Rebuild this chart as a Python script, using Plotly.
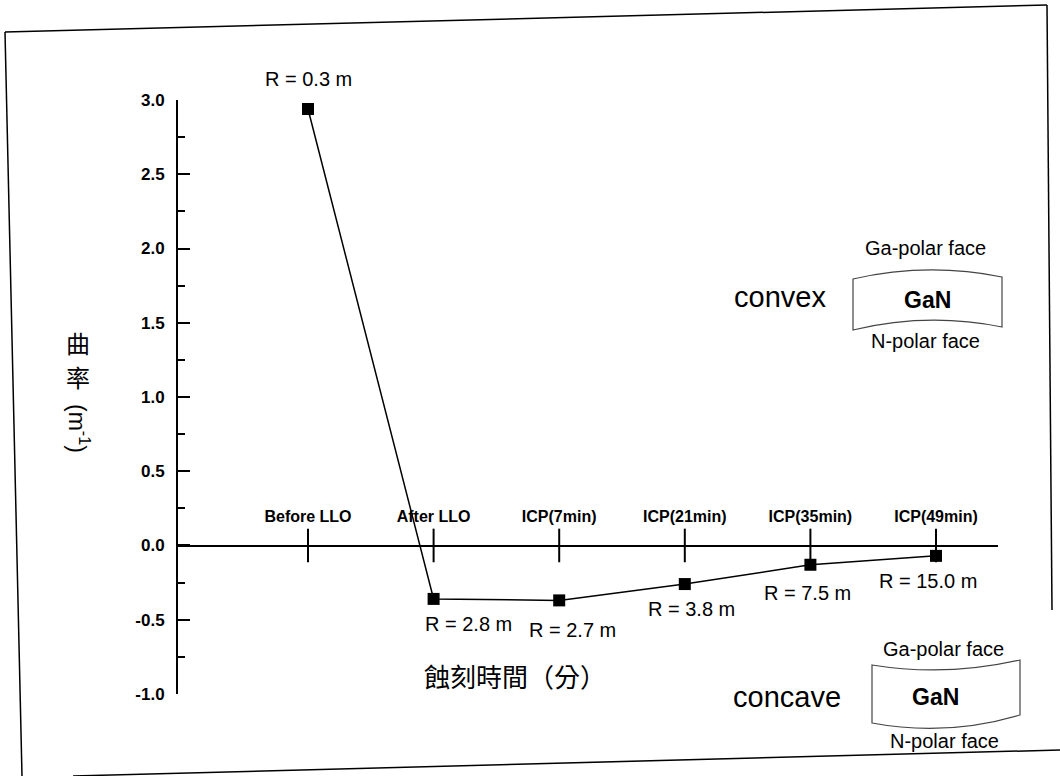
import plotly.graph_objects as go

# ---- data ----
categories = ["Before LLO", "After LLO", "ICP(7min)", "ICP(21min)", "ICP(35min)", "ICP(49min)"]
curvature = [2.94, -0.36, -0.37, -0.26, -0.13, -0.07]
radius_labels = ["R = 0.3 m", "R = 2.8 m", "R = 2.7 m", "R = 3.8 m", "R = 7.5 m", "R = 15.0 m"]
y_ticks = [3.0, 2.5, 2.0, 1.5, 1.0, 0.5, 0.0, -0.5, -1.0]

W, H = 1060, 776
ML, MR, MT, MB = 178, 62, 100, 82
PW, PH = W - ML - MR, H - MT - MB

def px(x):
    return (x - ML) / PW

def py(y):
    return (H - MB - y) / PH

FONT = "Liberation Sans, Arial, sans-serif"
CJK = "Noto Sans CJK TC, Noto Sans CJK SC, sans-serif"

xi = list(range(len(categories)))

fig = go.Figure()

# category tick marks crossing the axis line at y=0
fig.add_trace(go.Scatter(
    x=xi, y=[0] * len(xi), mode="markers",
    marker=dict(symbol="line-ns", size=24, line=dict(color="black", width=2)),
    hoverinfo="skip", showlegend=False, cliponaxis=False,
))

# data
fig.add_trace(go.Scatter(
    x=xi, y=curvature, mode="lines+markers",
    line=dict(color="black", width=1.5),
    marker=dict(symbol="square", size=12, color="black"),
    showlegend=False, cliponaxis=False,
))

# R labels (offsets in pixels)
offsets = [(0, 30), (35, -25), (13, -30), (7, -25), (-3, -28), (-8, -25)]
annotations = []
for i, (lab, v) in enumerate(zip(radius_labels, curvature)):
    dx, dy = offsets[i]
    annotations.append(dict(
        x=i, y=v, xref="x", yref="y", text=lab, showarrow=False,
        xanchor="center", yanchor="middle",
        xshift=dx, yshift=dy, font=dict(family=FONT, size=20, color="black"),
    ))

def txt(x, y, s, size, bold=False, family=FONT, angle=0):
    return dict(x=px(x), y=py(y), xref="paper", yref="paper", text=s, showarrow=False,
                xanchor="center", yanchor="middle", textangle=angle,
                font=dict(family=family, size=size, color="black",
                          weight="bold" if bold else "normal"))

# axis titles
annotations.append(txt(515, 675, "蝕刻時間（分）", 26, family=CJK))
annotations.append(txt(78, 342, "曲", 24, family=CJK))
annotations.append(txt(78, 376, "率", 24, family=CJK))
annotations.append(txt(79, 428, "(m<sup>-1</sup>)", 23, angle=90))

# convex / concave sketches
annotations += [
    txt(780, 297, "convex", 29),
    txt(925, 248, "Ga-polar face", 20),
    txt(927, 300, "GaN", 23, True),
    txt(925, 341, "N-polar face", 20),
    txt(787, 697, "concave", 29),
    txt(943, 649, "Ga-polar face", 20),
    txt(935, 697, "GaN", 23, True),
    txt(944, 741, "N-polar face", 20),
]

def box_path(x0, x1, yl_top, yr_top, yc_top, yl_bot, yr_bot, yc_bot):
    xm = (x0 + x1) / 2
    return (f"M {px(x0)},{py(yl_top)} Q {px(xm)},{py(yc_top)} {px(x1)},{py(yr_top)} "
            f"L {px(x1)},{py(yr_bot)} Q {px(xm)},{py(yc_bot)} {px(x0)},{py(yl_bot)} Z")

shapes = [
    dict(type="path", xref="paper", yref="paper",
         path=box_path(853, 1002, 279, 277, 262, 330, 327, 312),
         line=dict(color="#444", width=1.2)),
    dict(type="path", xref="paper", yref="paper",
         path=box_path(872, 1020, 665, 660, 677, 723, 715, 737),
         line=dict(color="#444", width=1.2)),
]

# scanned page frame
frame = [((5, 32), (1047, 5)), ((5, 32), (22, 776)), ((1047, 5), (1052, 610)), ((73, 776), (1060, 750))]
for (a, b) in frame:
    shapes.append(dict(type="line", xref="paper", yref="paper",
                       x0=px(a[0]), y0=py(a[1]), x1=px(b[0]), y1=py(b[1]),
                       line=dict(color="black", width=1.5)))

x_lo = (ML - 308) / 125.6
x_hi = (W - MR - 308) / 125.6

fig.update_layout(
    width=W, height=H,
    margin=dict(l=ML, r=MR, t=MT, b=MB, pad=0),
    paper_bgcolor="white", plot_bgcolor="white",
    showlegend=False,
    annotations=annotations,
    shapes=shapes,
    xaxis=dict(
        range=[x_lo, x_hi], anchor="free", position=0.25, side="top",
        tickmode="array", tickvals=xi, ticktext=categories,
        ticks="", showline=True, linecolor="black", linewidth=2,
        showgrid=False, zeroline=False, ticklabelstandoff=16,
        tickfont=dict(family=FONT, size=16, color="black", weight="bold"),
    ),
    yaxis=dict(
        range=[-1.0005, 3.0005], anchor="x",
        tickmode="array", tickvals=y_ticks, ticktext=[f"{v:.1f}" for v in y_ticks],
        ticks="inside", ticklen=12, tickwidth=2, tickcolor="black",
        minor=dict(ticks="inside", ticklen=7, tickwidth=2, tickcolor="black", dtick=0.25, showgrid=False),
        showline=True, linecolor="black", linewidth=2,
        showgrid=False, zeroline=False, ticklabelstandoff=8,
        tickfont=dict(family=FONT, size=17, color="black", weight="bold"),
    ),
)

fig.write_html("out.html", config={"displayModeBar": False},
               post_script="document.body.style.margin='0px';document.body.style.overflow='hidden';")
